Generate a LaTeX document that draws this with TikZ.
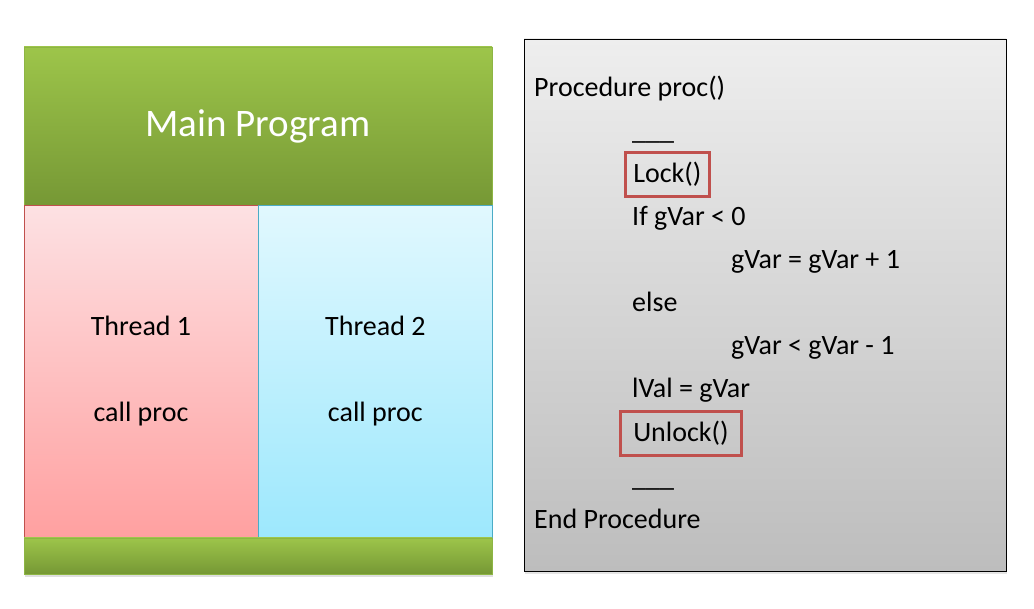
\documentclass[tikz,border=0pt]{standalone}
\usepackage{fontspec}
\setmainfont{Carlito}
\usetikzlibrary{positioning,shadows}
\definecolor{greenhi}{HTML}{9DC54A}
\definecolor{greenlo}{HTML}{769835}
\definecolor{greenrim}{HTML}{8DB544}
\definecolor{pinkhi}{HTML}{FDE1E3}
\definecolor{pinklo}{HTML}{FFA0A0}
\definecolor{bluehi}{HTML}{E1F8FE}
\definecolor{bluelo}{HTML}{9DE8FD}
\definecolor{redrim}{HTML}{C0504D}
\definecolor{bluerim}{HTML}{4BACC6}
\definecolor{grayhi}{HTML}{EEEEEE}
\definecolor{graylo}{HTML}{BDBDBD}
\begin{document}
\begin{tikzpicture}[
                            x=1pt, y=-1pt,
                            block/.style={rectangle, inner sep=0pt, align=center},
                            codeline/.style={anchor=base west, inner sep=0pt, font=\fontsize{28}{34}\selectfont},
                            lockbox/.style={draw=redrim, line width=2.5pt, inner xsep=#1, inner ysep=0pt, minimum height=44pt},
                            lockbox/.default=8pt
                        ]
                        \useasboundingbox[fill=white] (0,0) rectangle (1034,609);
                        % Blocks
                        \node [block, minimum width=468pt, minimum height=158pt, top color=greenhi, bottom color=greenlo, draw=greenrim,
                               drop shadow={opacity=0.25, shadow xshift=1pt, shadow yshift=-3pt},
                               text=white, font=\fontsize{39}{44}\selectfont] (main) at (258,126) {Main Program};
                        \node [block, minimum width=234pt, minimum height=332pt, top color=pinkhi, bottom color=pinklo, draw=redrim,
                               font=\fontsize{28}{86}\selectfont, anchor=north west] (thread1) at (main.south west) {Thread 1\\call proc};
                        \node [block, minimum width=234pt, minimum height=332pt, top color=bluehi, bottom color=bluelo, draw=bluerim,
                               font=\fontsize{28}{86}\selectfont, right=0pt of thread1] (thread2) {Thread 2\\call proc};
                        \node [block, minimum width=468pt, minimum height=36pt, top color=greenhi, bottom color=greenlo, draw=greenrim,
                               drop shadow={opacity=0.25, shadow xshift=1pt, shadow yshift=-3pt},
                               below=0pt of thread1.south east] (base) {};
                        \node [block, minimum width=482pt, minimum height=532pt, top color=grayhi, bottom color=graylo, draw=black, line width=0.8pt,
                               drop shadow={opacity=0.2, shadow xshift=1pt, shadow yshift=-3pt}] (code) at (765,305) {};

                        % Code lines
                        \node [codeline] (head) at (534,97) {Procedure proc()};
                        \node [codeline] (gap1) at (632,140) {\_\_\_};
                        \node [codeline, lockbox] (lock) at (624,183) {Lock()};
                        \node [codeline] (test) at (632,226) {If gVar < 0};
                        \node [codeline] (incr) at (731,269) {gVar = gVar + 1};
                        \node [codeline] (other) at (632,312) {else};
                        \node [codeline] (decr) at (731,355) {gVar < gVar - 1};
                        \node [codeline] (copy) at (632,398) {lVal = gVar};
                        \node [codeline, lockbox=13pt] (unlock) at (619,442) {Unlock()};
                        \node [codeline] (gap2) at (632,486) {\_\_\_};
                        \node [codeline] (tail) at (534,528) {End Procedure};
                    \end{tikzpicture}
\end{document}
